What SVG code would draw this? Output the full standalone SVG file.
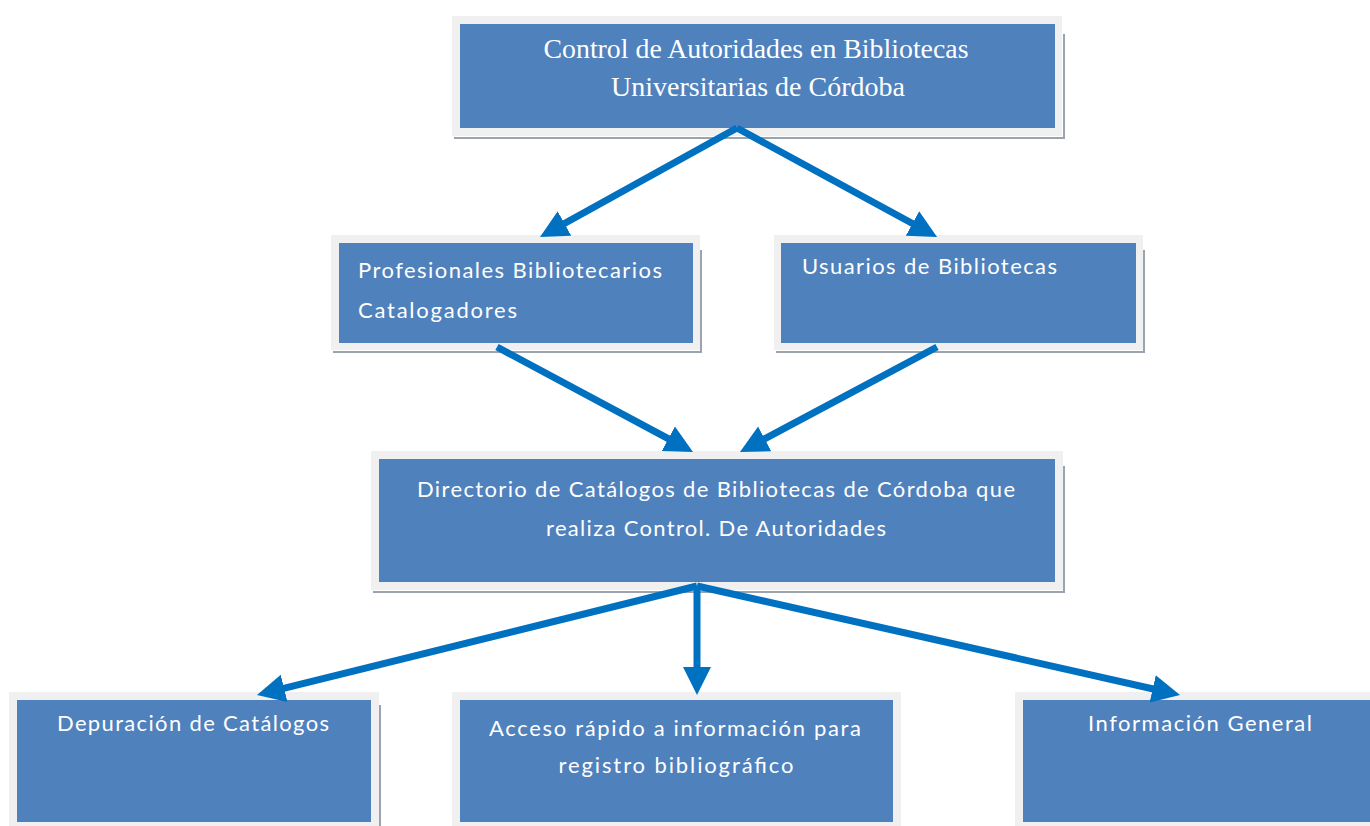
<svg xmlns="http://www.w3.org/2000/svg" width="1370" height="826" viewBox="0 0 1370 826">
<style>
.frame{fill:#f0f0f0}
.shadow{fill:none;stroke:#9aa3ae;stroke-width:2}
.box{fill:#4f81bd}
.t{fill:#ffffff;font-family:Lato,"Open Sans","Liberation Sans",sans-serif;font-size:22px}
.ts{fill:#ffffff;font-family:"Liberation Serif",serif;font-size:27px}
.c{fill:none;stroke:#0070c0;stroke-width:7}
</style>
<defs>
<marker id="ah" markerUnits="userSpaceOnUse" markerWidth="30" markerHeight="30" viewBox="0 0 30 30" refX="12" refY="15" orient="auto">
<path d="M0,1 L28,15 L0,29 Z" fill="#0070c0"/>
</marker>
</defs>
<rect width="1370" height="826" fill="#ffffff"/>
<g id="n1">
<polyline class="shadow" points="454,138 1064,138 1064,34"/>
<rect class="frame" x="452" y="16" width="610" height="120"/>
<rect class="box" x="460" y="24" width="595" height="104"/>
<text class="ts" x="756" y="58" text-anchor="middle" textLength="425" lengthAdjust="spacingAndGlyphs">Control  de Autoridades  en Bibliotecas</text>
<text class="ts" x="758" y="96" text-anchor="middle" textLength="294" lengthAdjust="spacingAndGlyphs">Universitarias  de  Córdoba</text>
</g>
<g id="n2">
<polyline class="shadow" points="333,352 701,352 701,250"/>
<rect class="frame" x="331" y="235" width="369" height="115"/>
<rect class="box" x="339" y="243" width="354" height="100"/>
<text class="t" x="358" y="278" textLength="304" lengthAdjust="spacing">Profesionales Bibliotecarios</text>
<text class="t" x="358" y="318" textLength="159" lengthAdjust="spacing">Catalogadores</text>
</g>
<g id="n3">
<polyline class="shadow" points="776,352 1144,352 1144,250"/>
<rect class="frame" x="774" y="235" width="369" height="115"/>
<rect class="box" x="781" y="243" width="355" height="100"/>
<text class="t" x="802" y="274" textLength="255" lengthAdjust="spacing">Usuarios de Bibliotecas</text>
</g>
<g id="n4">
<polyline class="shadow" points="373,592 1064,592 1064,466"/>
<rect class="frame" x="371" y="451" width="692" height="139"/>
<rect class="box" x="379" y="459" width="676" height="123"/>
<text class="t" x="716" y="497" text-anchor="middle" textLength="598" lengthAdjust="spacing">Directorio de Catálogos de Bibliotecas de Córdoba que</text>
<text class="t" x="716" y="536" text-anchor="middle" textLength="340" lengthAdjust="spacing">realiza Control. De Autoridades</text>
</g>
<g id="n5">
<polyline class="shadow" points="380,705 380,826"/>
<rect class="frame" x="9" y="692" width="370" height="134"/>
<rect class="box" x="17" y="700" width="354" height="122"/>
<text class="t" x="193" y="731" text-anchor="middle" textLength="272" lengthAdjust="spacing">Depuración de Catálogos</text>
</g>
<g id="n6">
<rect class="frame" x="452" y="692" width="449" height="134"/>
<rect class="box" x="460" y="700" width="433" height="122"/>
<text class="t" x="675" y="736" text-anchor="middle" textLength="372" lengthAdjust="spacing">Acceso rápido a información para</text>
<text class="t" x="676" y="773" text-anchor="middle" textLength="235" lengthAdjust="spacing">registro bibliográfico</text>
</g>
<g id="n7">
<rect class="frame" x="1015" y="692" width="355" height="134"/>
<rect class="box" x="1023" y="700" width="347" height="122"/>
<text class="t" x="1200" y="731" text-anchor="middle" textLength="224" lengthAdjust="spacing">Información General</text>
</g>
<g id="connectors">
<line class="c" x1="737" y1="128" x2="554" y2="229.3" marker-end="url(#ah)"/>
<line class="c" x1="737" y1="128" x2="923" y2="229.3" marker-end="url(#ah)"/>
<line class="c" x1="497" y1="347" x2="678.9" y2="444.4" marker-end="url(#ah)"/>
<line class="c" x1="937" y1="347" x2="754.1" y2="444.5" marker-end="url(#ah)"/>
<line class="c" x1="697" y1="586" x2="272.5" y2="691.2" marker-end="url(#ah)"/>
<line class="c" x1="697" y1="586" x2="697" y2="679" marker-end="url(#ah)"/>
<line class="c" x1="697" y1="586" x2="1164.4" y2="691.5" marker-end="url(#ah)"/>
</g>
</svg>
